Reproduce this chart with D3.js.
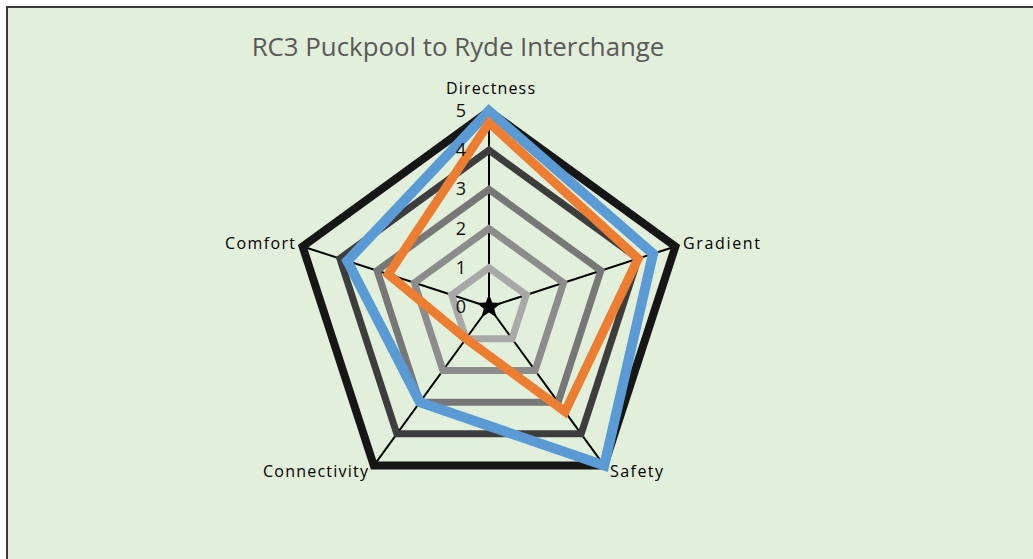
<!DOCTYPE html>
<html>
<head>
<meta charset="utf-8">
<script src="https://cdn.jsdelivr.net/npm/d3@7"></script>
<style>
  html, body { margin: 0; padding: 0; background: #ffffff; }
  svg { display: block; }
</style>
</head>
<body>
<svg id="chart" width="1033" height="559"></svg>
<script>
// ---- data ----
const title = "RC3 Puckpool to Ryde Interchange";
const categories = ["Directness", "Gradient", "Safety", "Connectivity", "Comfort"];
const ringLevels = [0, 1, 2, 3, 4, 5];
const tickLabels = ["0", "1", "2", "3", "4", "5"];
const seriesBlue = [5, 4.4, 5, 3, 3.8];
const seriesOrange = [4.7, 4, 3.3, 1, 2.7];

// ---- styles ----
const ringColors = ["#000000", "#a8a8a8", "#8c8c8c", "#777777", "#3d3d3d", "#161616"];
const ringWidths = [7, 7, 7, 7, 7, 8];
const blueColor = "#5b9bd5";
const orangeColor = "#ed7d31";
const font = "'Open Sans', 'Noto Sans', sans-serif";

const W = 1033, H = 559;
const cx = 489, cy = 307, R = 196;

const svg = d3.select("#chart");

// frame
svg.append("rect")
  .attr("x", 7).attr("y", 7)
  .attr("width", W + 20).attr("height", H + 20)
  .attr("fill", "#e2efda")
  .attr("stroke", "#3a3a3a").attr("stroke-width", 2);

const r = d3.scaleLinear().domain([0, 5]).range([0, R]);
const angle = i => i * 2 * Math.PI / categories.length;

const g = svg.append("g").attr("transform", `translate(${cx},${cy})`);

// spokes
g.selectAll("line.spoke")
  .data(categories)
  .join("line")
  .attr("class", "spoke")
  .attr("x1", 0).attr("y1", 0)
  .attr("x2", (d, i) => r(5) * Math.sin(angle(i)))
  .attr("y2", (d, i) => -r(5) * Math.cos(angle(i)))
  .attr("stroke", "#000").attr("stroke-width", 2);

const radial = d3.lineRadial()
  .angle((d, i) => angle(i))
  .radius(d => r(d))
  .curve(d3.curveLinearClosed);

// rings (level series)
ringLevels.forEach((lv, k) => {
  if (lv === 0) return;
  g.append("path")
    .attr("d", radial(categories.map(() => lv)))
    .attr("fill", "none")
    .attr("stroke", ringColors[k])
    .attr("stroke-width", ringWidths[k])
    .attr("stroke-linejoin", "miter");
});

// zero-level series: collapses into a small star at the centre
const starPts = [];
categories.forEach((c, i) => {
  const a = angle(i);
  const a2 = angle(i + 0.5);
  starPts.push([13 * Math.sin(a), -13 * Math.cos(a)]);
  starPts.push([5.5 * Math.sin(a2), -5.5 * Math.cos(a2)]);
});
g.append("path")
  .attr("d", d3.line()(starPts) + "Z")
  .attr("fill", ringColors[0]);

// data series
g.append("path")
  .attr("d", radial(seriesBlue))
  .attr("fill", "none")
  .attr("stroke", blueColor)
  .attr("stroke-width", 10)
  .attr("stroke-linejoin", "miter");

g.append("path")
  .attr("d", radial(seriesOrange))
  .attr("fill", "none")
  .attr("stroke", orangeColor)
  .attr("stroke-width", 9)
  .attr("stroke-linejoin", "miter");

// tick labels
g.selectAll("text.tick")
  .data(tickLabels)
  .join("text")
  .attr("class", "tick")
  .attr("x", -23)
  .attr("y", (d, i) => -r(ringLevels[i]) + 6)
  .attr("text-anchor", "end")
  .attr("font-family", font)
  .attr("font-size", 18)
  .attr("fill", "#111")
  .text(d => d);

// category labels
const labelPos = [
  { x: 446, y: 94, w: 89 },
  { x: 683, y: 249, w: 77 },
  { x: 610, y: 477, w: 53 },
  { x: 263, y: 477, w: 105 },
  { x: 225, y: 249, w: 70 }
];
svg.selectAll("text.cat")
  .data(categories)
  .join("text")
  .attr("class", "cat")
  .attr("x", (d, i) => labelPos[i].x)
  .attr("y", (d, i) => labelPos[i].y)
  .attr("text-anchor", "start")
  .attr("font-family", font)
  .attr("font-size", 16)
  .attr("textLength", (d, i) => labelPos[i].w)
  .attr("lengthAdjust", "spacing")
  .attr("fill", "#000")
  .text(d => d);

// title
const t = svg.append("text")
  .attr("x", 458).attr("y", 56)
  .attr("text-anchor", "middle")
  .attr("font-family", font)
  .attr("font-size", 22)
  .attr("fill", "#595959")
  .text(title);
// fit title to its width in the reference
const tw = t.node().getComputedTextLength();
t.attr("font-size", 22 * 413 / tw);
</script>
</body>
</html>
